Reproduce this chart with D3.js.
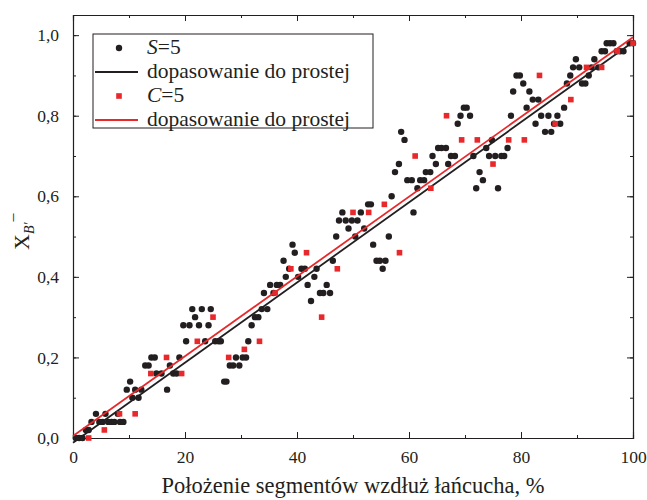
<!DOCTYPE html>
<html>
<head>
<meta charset="utf-8">
<script src="https://d3js.org/d3.v7.min.js"></script>
<style>
  body { margin: 0; background: #fff; }
  svg text { font-family: "Liberation Serif", "DejaVu Serif", serif; fill: #231f20; }
</style>
</head>
<body>
<div id="chart"></div>
<script>
// S=5 (black dots)
const sX = [0.5, 1.1, 1.7, 2.3, 2.8, 3.3, 4.1, 4.7, 5.3, 5.8, 6.3, 6.9, 7.4, 8.0, 8.4, 9.0,
  9.6, 10.2, 10.6, 11.1, 11.7, 12.2, 12.9, 13.5, 14.0, 14.6, 14.9, 15.8, 16.8, 17.3, 17.9, 18.5,
  19.0, 19.7, 20.2, 20.8, 21.3, 21.8, 22.5, 23.0, 23.6, 24.2, 24.6, 25.4, 26.0, 26.4, 27.0, 27.4,
  28.0, 28.6, 29.1, 29.7, 30.3, 30.9, 31.3, 31.9, 32.5, 33.1, 33.7, 34.1, 34.7, 35.2, 35.8, 36.4,
  37.0, 37.6, 38.0, 38.6, 39.2, 39.6, 40.2, 40.8, 41.4, 41.9, 42.5, 43.1, 43.5, 44.1, 44.7, 45.3,
  45.9, 46.4, 47.0, 47.5, 48.1, 48.7, 49.2, 49.8, 50.4, 50.8, 51.4, 52.0, 52.7, 53.2, 53.6, 54.2,
  54.8, 55.3, 55.8, 56.4, 56.9, 57.5, 58.2, 58.6, 59.2, 59.7, 60.5, 60.8, 61.5, 62.0, 62.7, 63.0,
  63.8, 64.2, 64.8, 65.2, 65.8, 66.6, 67.0, 67.5, 68.2, 68.7, 69.2, 69.8, 70.3, 70.9, 71.5, 72.0,
  72.6, 73.2, 73.8, 74.3, 74.8, 75.4, 75.9, 76.5, 77.0, 77.6, 78.2, 78.6, 79.2, 79.8, 80.4, 81.0,
  81.5, 82.1, 82.6, 83.1, 83.6, 84.3, 84.9, 85.4, 85.9, 86.5, 87.0, 87.7, 88.2, 88.8, 89.3, 89.8,
  90.4, 90.9, 91.5, 92.1, 92.6, 93.1, 93.8, 94.4, 95.0, 95.3, 95.9, 96.5, 97.1, 97.7, 98.3, 99.4, 100];
const sY = [0, 0, 0, 0.02, 0.02, 0.04, 0.06, 0.04, 0.04, 0.06, 0.04, 0.04, 0.04, 0.06, 0.04, 0.04,
  0.12, 0.14, 0.10, 0.12, 0.10, 0.12, 0.18, 0.18, 0.20, 0.20, 0.16, 0.16, 0.12, 0.18, 0.16, 0.16,
  0.20, 0.28, 0.24, 0.28, 0.32, 0.30, 0.28, 0.32, 0.24, 0.28, 0.32, 0.24, 0.24, 0.24, 0.14, 0.14,
  0.18, 0.18, 0.20, 0.18, 0.20, 0.20, 0.24, 0.28, 0.30, 0.30, 0.32, 0.36, 0.32, 0.38, 0.36, 0.38,
  0.38, 0.44, 0.40, 0.42, 0.48, 0.46, 0.40, 0.42, 0.42, 0.38, 0.34, 0.40, 0.42, 0.36, 0.36, 0.38,
  0.36, 0.44, 0.50, 0.54, 0.56, 0.54, 0.52, 0.54, 0.50, 0.54, 0.56, 0.52, 0.58, 0.58, 0.48, 0.44,
  0.44, 0.42, 0.44, 0.50, 0.60, 0.66, 0.68, 0.76, 0.74, 0.64, 0.64, 0.56, 0.62, 0.64, 0.64, 0.66,
  0.66, 0.70, 0.68, 0.72, 0.72, 0.72, 0.68, 0.70, 0.70, 0.78, 0.80, 0.82, 0.82, 0.80, 0.70, 0.62,
  0.66, 0.64, 0.72, 0.70, 0.74, 0.70, 0.62, 0.70, 0.70, 0.72, 0.80, 0.86, 0.90, 0.90, 0.88, 0.82,
  0.86, 0.84, 0.78, 0.84, 0.80, 0.76, 0.80, 0.76, 0.78, 0.80, 0.78, 0.82, 0.88, 0.90, 0.92, 0.94,
  0.92, 0.88, 0.88, 0.90, 0.92, 0.94, 0.92, 0.96, 0.96, 0.98, 0.98, 0.98, 0.96, 0.96, 0.96, 0.98, 0.98];

// C=5 (red squares)
const cX = [2.8, 5.6, 8.3, 11.1, 13.9, 16.7, 19.4, 22.2, 25.0, 27.8, 30.6, 33.3, 36.1, 38.9, 41.7, 44.4,
  47.2, 50.0, 52.8, 55.6, 58.3, 61.1, 63.9, 66.7, 69.4, 72.2, 75.0, 77.8, 80.6, 83.3, 86.1, 88.9,
  91.7, 94.4, 97.2, 100];
const cY = [0, 0.02, 0.06, 0.06, 0.16, 0.20, 0.16, 0.24, 0.30, 0.20, 0.22, 0.24, 0.36, 0.42, 0.46, 0.30,
  0.42, 0.56, 0.56, 0.58, 0.46, 0.70, 0.62, 0.80, 0.74, 0.74, 0.68, 0.74, 0.74, 0.90, 0.78, 0.84,
  0.92, 0.92, 0.96, 0.98];

// straight-line fits: [intercept, slope]
const fitS = [-0.012, 0.00995];
const fitC = [0.005, 0.0099];

const xTicks = [0, 20, 40, 60, 80, 100];
const yTicks = [0, 0.2, 0.4, 0.6, 0.8, 1.0];

const legendLabels = ['S', 'dopasowanie do prostej', 'C', 'dopasowanie do prostej'];

const W = 647, H = 500;
const margin = {left: 73, right: 14, top: 15, bottom: 62};
const black = '#231f20', red = '#e8282b';

const svg = d3.select('#chart').append('svg')
    .attr('width', W)
    .attr('height', H);

const x = d3.scaleLinear().domain([0, 100]).range([margin.left, W - margin.right]);
const y = d3.scaleLinear().domain([0, 1.05]).range([H - margin.bottom, margin.top]);

const fmt = d => d3.format('.1f')(d).replace('.', ',');

// axes, ticks inward on all four sides
const minorX = d3.range(0, 101, 10), minorY = d3.range(0, 1.01, 0.1);
function addAxis(axis, tr, labels) {
    const g = svg.append('g').attr('transform', tr).call(axis);
    g.select('.domain').attr('stroke', black).attr('stroke-width', 1.1);
    g.selectAll('.tick line').attr('stroke', black).attr('stroke-width', 1);
    if (!labels) g.selectAll('.tick text').remove();
    return g;
}
const y0 = H - margin.bottom, x0 = margin.left, x1 = W - margin.right, yTop = margin.top;

addAxis(d3.axisBottom(x).tickValues(minorX).tickSize(-3).tickFormat(''), `translate(0,${y0})`, false);
addAxis(d3.axisTop(x).tickValues(minorX).tickSize(-3).tickFormat(''), `translate(0,${yTop})`, false);
addAxis(d3.axisLeft(y).tickValues(minorY).tickSize(-3).tickFormat(''), `translate(${x0},0)`, false);
addAxis(d3.axisRight(y).tickValues(minorY).tickSize(-3).tickFormat(''), `translate(${x1},0)`, false);

const gx = addAxis(d3.axisBottom(x).tickValues(xTicks).tickSize(-6).tickPadding(13).tickFormat(d3.format('d')), `translate(0,${y0})`, true);
gx.selectAll('.tick text').attr('font-size', 17.5).attr('font-family', null).attr('fill', black);
addAxis(d3.axisTop(x).tickValues(xTicks).tickSize(-6).tickFormat(''), `translate(0,${yTop})`, false);
const gy = addAxis(d3.axisLeft(y).tickValues(yTicks).tickSize(-6).tickPadding(14).tickFormat(fmt), `translate(${x0},0)`, true);
gy.selectAll('.tick text').attr('font-size', 17.5).attr('font-family', null).attr('fill', black);
addAxis(d3.axisRight(y).tickValues(yTicks).tickSize(-6).tickFormat(''), `translate(${x1},0)`, false);

function drawFit(fit, color) {
    svg.append('line')
        .attr('x1', x(0)).attr('y1', y(fit[0]))
        .attr('x2', x(100)).attr('y2', y(fit[0] + fit[1] * 100))
        .attr('stroke', color).attr('stroke-width', 1.8);
}

// points
svg.append('g').selectAll('circle')
    .data(d3.zip(sX, sY))
    .join('circle')
    .attr('cx', d => x(d[0]))
    .attr('cy', d => y(d[1]))
    .attr('r', 3.2)
    .attr('fill', black);

drawFit(fitS, black);

const sq = 5.6;
svg.append('g').selectAll('rect')
    .data(d3.zip(cX, cY))
    .join('rect')
    .attr('x', d => x(d[0]) - sq / 2)
    .attr('y', d => y(d[1]) - sq / 2)
    .attr('width', sq)
    .attr('height', sq)
    .attr('fill', red);

drawFit(fitC, red);

// legend
const lg = svg.append('g');
lg.append('rect')
    .attr('x', 93).attr('y', 34).attr('width', 280).attr('height', 94)
    .attr('fill', '#fff').attr('stroke', black).attr('stroke-width', 1);
const rows = [48, 72, 96, 120];
lg.append('circle').attr('cx', 119).attr('cy', rows[0]).attr('r', 3.2).attr('fill', black);
lg.append('line').attr('x1', 95).attr('x2', 138).attr('y1', rows[1]).attr('y2', rows[1])
    .attr('stroke', black).attr('stroke-width', 1.8);
lg.append('rect').attr('x', 119 - sq / 2).attr('y', rows[2] - sq / 2).attr('width', sq).attr('height', sq).attr('fill', red);
lg.append('line').attr('x1', 95).attr('x2', 138).attr('y1', rows[3]).attr('y2', rows[3])
    .attr('stroke', red).attr('stroke-width', 1.8);

legendLabels.forEach((lab, i) => {
    const t = lg.append('text').attr('x', 147).attr('y', rows[i] + 6).attr('font-size', 21.5);
    if (i % 2 === 0) {
        t.append('tspan').attr('font-style', 'italic').text(lab);
        t.append('tspan').text('=5');
    } else {
        t.text(lab);
    }
});

// axis titles
svg.append('text')
    .attr('x', (x0 + x1) / 2).attr('y', 493)
    .attr('text-anchor', 'middle')
    .attr('font-size', 22.5)
    .text('Położenie segmentów wzdłuż łańcucha, %');

const yt = svg.append('text')
    .attr('transform', 'translate(29,250) rotate(-90)')
    .attr('font-size', 22);
yt.append('tspan').text('X');
yt.append('tspan').attr('font-size', 14).attr('font-style', 'italic').attr('dy', 5).text('B′');
yt.append('tspan').attr('font-size', 16).attr('dx', 1).attr('dy', -17).text('–');
</script>
</body>
</html>
